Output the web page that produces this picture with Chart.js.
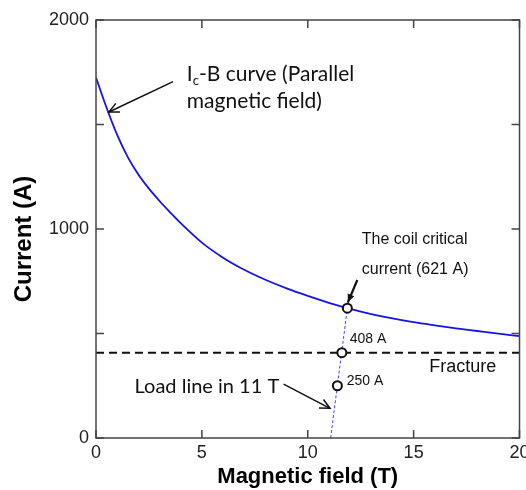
<!DOCTYPE html>
<html>
<head>
<meta charset="utf-8">
<script src="https://cdn.jsdelivr.net/npm/chart.js@4"></script>
<style>
  html, body { margin: 0; padding: 0; background: #fff; }
  #wrap { width: 526px; height: 490px; }
</style>
</head>
<body>
<div id="wrap"><canvas id="c"></canvas></div>
<script>
// Ic-B curve
var fieldB = [0, 0.5, 1, 1.5, 2, 2.5, 3, 3.5, 4, 5, 6, 7, 8, 9, 10, 11, 12, 13, 14, 15, 16, 17, 18, 19, 20];
var icCurrent = [1725, 1580, 1450, 1344, 1261, 1193, 1134, 1080, 1028, 935, 863, 805, 757, 716, 680, 647, 618, 593, 572, 554, 539, 525, 512, 499, 487];

// load line in 11 T and its marked points
var loadB = [11.08, 11.87];
var loadI = [0, 621];
var markB = [11.40, 11.61, 11.87];
var markI = [250, 408, 621];

var fractureI = 408;

var xTicks = [0, 5, 10, 15, 20];
var yTicks = [0, 1000, 2000];

function pts(xs, ys) {
  var out = [];
  for (var i = 0; i < xs.length; ++i) out.push({x: xs[i], y: ys[i]});
  return out;
}

// text notes and arrows, in data units
var notes = [
  {x: 12.55, y: 928, text: 'The coil critical', font: '16px "Liberation Sans", Arial'},
  {x: 12.55, y: 785, text: 'current (621 A)', font: '16px "Liberation Sans", Arial'},
  {x: 11.98, y: 455, text: '408 A', font: '14px "Liberation Sans", Arial'},
  {x: 11.84, y: 254, text: '250 A', font: '14px "Liberation Sans", Arial'},
  {x: 15.74, y: 317, text: 'Fracture', font: '18px "Liberation Sans", Arial'},
  {x: 1.82, y: 217, text: 'Load line in 11 T', font: '20px Lato'},
  {x: 4.29, y: 1579, text: 'magnetic field)', font: '21px Lato'}
];
var arrows = [
  {x1: 3.64, y1: 1705, x2: 0.61, y2: 1560, filled: false},
  {x1: 12.34, y1: 756, x2: 11.89, y2: 648, filled: true},
  {x1: 8.86, y1: 258, x2: 11.05, y2: 142, filled: false}
];

var framePlugin = {
  id: 'frame',
  afterDraw: function(chart) {
    var ctx = chart.ctx;
    var a = chart.chartArea;
    var xs = chart.scales.x, ys = chart.scales.y;
    var i, p;
    ctx.save();
    ctx.strokeStyle = '#444';
    ctx.lineWidth = 1.5;
    ctx.strokeRect(a.left, a.top, a.right - a.left, a.bottom - a.top);
    ctx.beginPath();
    for (i = 0; i < xs.ticks.length; ++i) {
      p = xs.getPixelForValue(xs.ticks[i].value);
      ctx.moveTo(p, a.bottom); ctx.lineTo(p, a.bottom - 8);
      ctx.moveTo(p, a.top); ctx.lineTo(p, a.top + 8);
    }
    for (i = 0; i < ys.ticks.length; ++i) {
      p = ys.getPixelForValue(ys.ticks[i].value);
      ctx.moveTo(a.left, p); ctx.lineTo(a.left + 8, p);
      ctx.moveTo(a.right, p); ctx.lineTo(a.right - 8, p);
    }
    ctx.stroke();

    // notes
    ctx.fillStyle = '#111';
    ctx.textBaseline = 'alphabetic';
    ctx.textAlign = 'left';
    for (i = 0; i < notes.length; ++i) {
      ctx.font = notes[i].font;
      ctx.fillText(notes[i].text, xs.getPixelForValue(notes[i].x), ys.getPixelForValue(notes[i].y));
    }
    // "Ic-B curve (Parallel" with subscript c
    var tx = xs.getPixelForValue(4.29), ty = ys.getPixelForValue(1708);
    ctx.font = '21px Lato';
    ctx.fillText('I', tx, ty);
    tx += ctx.measureText('I').width;
    ctx.font = '13px Lato';
    ctx.fillText('c', tx, ty + 4);
    tx += ctx.measureText('c').width;
    ctx.font = '21px Lato';
    ctx.fillText('-B curve (Parallel', tx, ty);

    // arrows
    ctx.strokeStyle = '#111';
    ctx.fillStyle = '#111';
    for (i = 0; i < arrows.length; ++i) {
      var r = arrows[i];
      var x1 = xs.getPixelForValue(r.x1), y1 = ys.getPixelForValue(r.y1);
      var x2 = xs.getPixelForValue(r.x2), y2 = ys.getPixelForValue(r.y2);
      var ang = Math.atan2(y2 - y1, x2 - x1);
      ctx.lineWidth = r.filled ? 2.2 : 1.5;
      ctx.beginPath();
      ctx.moveTo(x1, y1); ctx.lineTo(x2, y2);
      ctx.stroke();
      var hl = r.filled ? 9 : 11, ha = r.filled ? 0.4 : 0.45;
      ctx.beginPath();
      ctx.moveTo(x2 - hl * Math.cos(ang - ha), y2 - hl * Math.sin(ang - ha));
      ctx.lineTo(x2, y2);
      ctx.lineTo(x2 - hl * Math.cos(ang + ha), y2 - hl * Math.sin(ang + ha));
      if (r.filled) { ctx.closePath(); ctx.fill(); } else ctx.stroke();
    }
    ctx.restore();
  }
};

var ctx = document.getElementById('c').getContext('2d');
var chart = new Chart(ctx, {
  type: 'scatter',
  data: {
    datasets: [
      {
        label: 'points',
        data: pts(markB, markI),
        pointRadius: 4.5,
        pointBackgroundColor: '#fff',
        pointBorderColor: '#111',
        pointBorderWidth: 2,
        showLine: false
      },
      {
        label: 'Ic-B',
        data: pts(fieldB, icCurrent),
        showLine: true,
        borderColor: '#1414e6',
        borderWidth: 1.8,
        pointRadius: 0,
        cubicInterpolationMode: 'monotone'
      },
      {
        label: 'load line',
        data: pts(loadB, loadI),
        showLine: true,
        borderColor: '#4646ff',
        borderWidth: 1,
        borderDash: [3, 2],
        pointRadius: 0
      },
      {
        label: 'fracture',
        data: pts([0, 20], [fractureI, fractureI]),
        showLine: true,
        borderColor: '#111',
        borderWidth: 2,
        borderDash: [8, 5],
        pointRadius: 0
      }
    ]
  },
  options: {
    responsive: true,
    maintainAspectRatio: false,
    animation: false,
    layout: {padding: {left: 0, right: 1, top: 20, bottom: 0}},
    plugins: {legend: {display: false}, tooltip: {enabled: false}},
    scales: {
      x: {
        type: 'linear', min: 0, max: 20,
        grid: {display: false, drawTicks: false},
        border: {display: false},
        ticks: {
          stepSize: 5, padding: 4, color: '#222', maxRotation: 0,
          font: {family: '"Liberation Sans", Arial', size: 18},
          callback: function(v) { return xTicks.indexOf(v) >= 0 ? String(v) : ''; }
        },
        title: {
          display: true, text: 'Magnetic field (T)', color: '#000',
          font: {family: '"Liberation Sans", Arial', size: 22, weight: 'bold'},
          padding: {top: 0, bottom: 0}
        },
        afterFit: function(s) { s.height = 52; s.paddingLeft = 0; s.paddingRight = 0; }
      },
      y: {
        type: 'linear', min: 0, max: 2000,
        grid: {display: false, drawTicks: false},
        border: {display: false},
        ticks: {
          stepSize: 500, padding: 7, color: '#222',
          font: {family: '"Liberation Sans", Arial', size: 18},
          callback: function(v) { return yTicks.indexOf(v) >= 0 ? String(v) : ''; }
        },
        title: {
          display: true, text: 'Current (A)   ', color: '#000',
          font: {family: '"Liberation Sans", Arial', size: 24, weight: 'bold'},
          padding: {top: 10, bottom: 0}
        },
        afterFit: function(s) { s.width = 96; s.paddingTop = 0; s.paddingBottom = 0; }
      }
    }
  },
  plugins: [framePlugin]
});
</script>
</body>
</html>
